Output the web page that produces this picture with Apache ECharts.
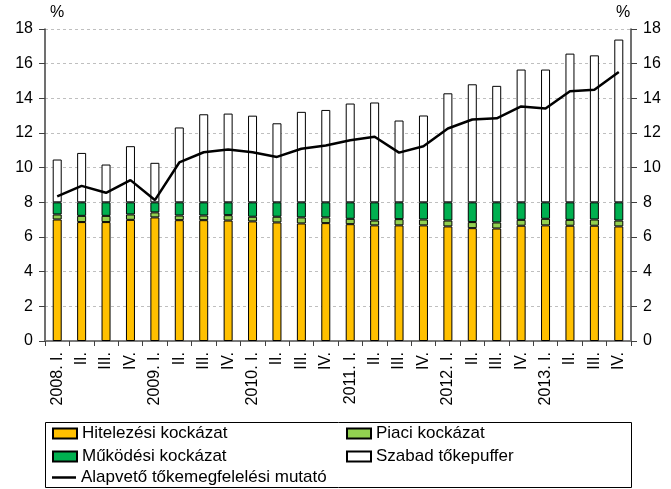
<!DOCTYPE html>
<html>
<head>
<meta charset="utf-8">
<script src="https://cdn.jsdelivr.net/npm/echarts@6/dist/echarts.min.js"></script>
<style>
html,body{margin:0;padding:0;background:#fff;}
#chart{width:671px;height:489px;}
</style>
</head>
<body>
<div id="chart"></div>
<script>
const categories = ["2008. I.","II.","III.","IV.","2009. I.","II.","III.","IV.","2010. I.","II.","III.","IV.","2011. I.","II.","III.","IV.","2012. I.","II.","III.","IV.","2013. I.","II.","III.","IV."];
const hitelezesi = [7.01,6.86,6.86,6.99,7.13,6.97,6.97,6.95,6.90,6.84,6.78,6.80,6.74,6.67,6.67,6.67,6.61,6.51,6.49,6.65,6.67,6.65,6.65,6.61];
const piaci = [0.29,0.36,0.36,0.31,0.29,0.27,0.27,0.31,0.27,0.33,0.35,0.33,0.31,0.28,0.36,0.34,0.34,0.35,0.35,0.34,0.38,0.34,0.36,0.34];
const mukodesi = [0.70,0.78,0.78,0.70,0.58,0.76,0.76,0.74,0.83,0.83,0.87,0.87,0.95,1.05,0.97,0.99,1.05,1.14,1.16,1.01,0.95,1.01,0.99,1.05];
const szabad = [2.47,2.85,2.18,3.24,2.28,4.32,5.08,5.12,5.00,4.56,5.22,5.33,5.70,5.76,4.72,5.01,6.29,6.81,6.72,7.66,7.66,8.58,8.48,9.39];
const mutato = [8.34,8.95,8.55,9.28,8.13,10.30,10.89,11.05,10.89,10.62,11.09,11.28,11.58,11.78,10.87,11.24,12.26,12.78,12.85,13.53,13.41,14.41,14.49,15.52];
const seriesNames = ["Hitelezési kockázat","Piaci kockázat","Működési kockázat","Szabad tőkepuffer","Alapvető tőkemegfelelési mutató"];
const unitLabel = "%";

const FONT = "Liberation Sans";
const chart = echarts.init(document.getElementById('chart'), null, {renderer:'canvas'});

function barSeries(name, data, color){
  return {
    name: name, type: 'bar', stack: 'total', data: data, barWidth: 9,
    itemStyle: {color: color, borderColor: '#000', borderWidth: 1},
    emphasis: {disabled: true}
  };
}

const legendText = {fontFamily: FONT, fontSize: 17, color: '#000'};

const option = {
  animation: false,
  backgroundColor: '#fff',
  textStyle: {fontFamily: FONT, color: '#000'},
  grid: {left: 45, right: 40, top: 29, bottom: 148},
  graphic: [
    {type: 'rect', shape: {x: 45.5, y: 422.5, width: 586, height: 65}, style: {fill: 'none', stroke: '#000', lineWidth: 1}, z: 0},
    {type: 'text', left: 50, top: 5, style: {text: unitLabel, font: '16px "Liberation Sans"', fill: '#000'}},
    {type: 'text', left: 616, top: 5, style: {text: unitLabel, font: '16px "Liberation Sans"', fill: '#000'}}
  ],
  legend: [
    {
      data: [seriesNames[0], seriesNames[2]], icon: 'rect',
      orient: 'vertical', left: 52, top: 425, itemGap: 6, padding: 0,
      itemWidth: 24, itemHeight: 10, textStyle: legendText
    },
    {
      data: [seriesNames[1], seriesNames[3]], icon: 'rect',
      orient: 'vertical', left: 346, top: 425, itemGap: 6, padding: 0,
      itemWidth: 24, itemHeight: 10, textStyle: legendText
    },
    {
      data: [{name: seriesNames[4], icon: 'rect'}],
      orient: 'vertical', left: 52, top: 469, padding: 0,
      itemWidth: 24, itemHeight: 2.5,
      itemStyle: {color: '#000', borderWidth: 0},
      textStyle: legendText
    }
  ],
  xAxis: [
    {
      type: 'category', data: categories, position: 'bottom',
      axisLine: {lineStyle: {color: '#404040', width: 1.5}},
      axisTick: {show: true, length: 5, lineStyle: {color: '#404040'}},
      axisLabel: {rotate: 90, interval: 0, fontSize: 16, color: '#000', fontFamily: FONT, margin: 11}
    },
    {
      type: 'category', data: categories, position: 'top',
      axisLine: {show: true, lineStyle: {color: '#808080', width: 1.5}},
      axisTick: {show: false}, axisLabel: {show: false}
    }
  ],
  yAxis: [
    {
      type: 'value', min: 0, max: 18, interval: 2, position: 'left',
      axisLine: {show: true, lineStyle: {color: '#404040', width: 1.5}},
      axisTick: {show: true, inside: false, length: 6, lineStyle: {color: '#404040'}},
      axisLabel: {fontSize: 16, color: '#000', fontFamily: FONT, margin: 12},
      splitLine: {show: true, lineStyle: {color: '#bfbfbf', type: [3, 3], width: 1}}
    },
    {
      type: 'value', min: 0, max: 18, interval: 2, position: 'right',
      axisLine: {show: true, lineStyle: {color: '#404040', width: 1.5}},
      axisTick: {show: true, inside: false, length: 6, lineStyle: {color: '#404040'}},
      axisLabel: {fontSize: 16, color: '#000', fontFamily: FONT, margin: 12},
      splitLine: {show: false}
    }
  ],
  series: [
    barSeries(seriesNames[0], hitelezesi, '#FFC000'),
    barSeries(seriesNames[1], piaci, '#92D050'),
    barSeries(seriesNames[2], mukodesi, '#00B050'),
    barSeries(seriesNames[3], szabad, '#FFFFFF'),
    {
      name: seriesNames[4], type: 'line', data: mutato, symbol: 'none',
      lineStyle: {color: '#000', width: 2.5}, itemStyle: {color: '#000'}, z: 5,
      emphasis: {disabled: true}
    }
  ]
};
chart.setOption(option);
</script>
</body>
</html>
